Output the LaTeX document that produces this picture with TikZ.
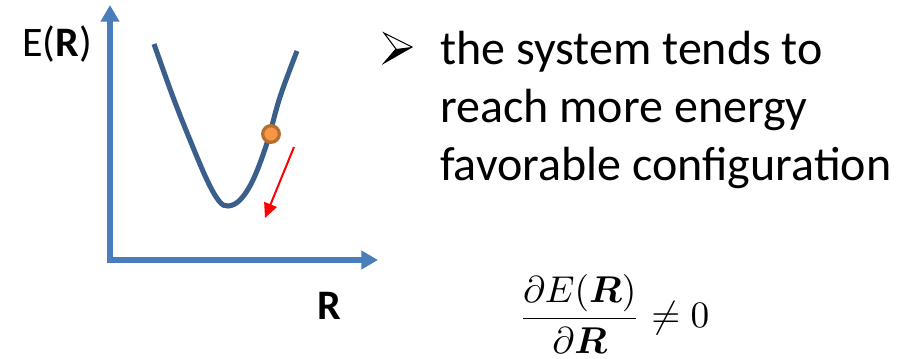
\documentclass[tikz,border=0pt]{standalone}
\usepackage{amsmath}
\usepackage{fontspec}
\setmainfont{Carlito}
\usetikzlibrary{arrows.meta}
\definecolor{axisblue}{HTML}{4A7EBB}
\definecolor{curveblue}{HTML}{3A5F8B}
\definecolor{ballfill}{HTML}{F79646}
\definecolor{ballrim}{HTML}{B5702F}
\definecolor{pushred}{HTML}{FF0000}
\tikzset{
  axisline/.style={{Triangle[length=12.5pt,width=13.5pt]}-{Triangle[length=12.5pt,width=13.5pt]},
                   line width=4.5pt, color=axisblue, line join=miter},
  curveline/.style={line width=3.8pt, color=curveblue, line cap=butt},
  ballmark/.style={circle, fill=ballfill, draw=ballrim, line width=2.4pt,
                   minimum size=12.5pt, inner sep=0pt},
  pusharr/.style={-{Triangle[length=11pt,width=10pt]}, line width=1.5pt, color=pushred},
  axlabel/.style={inner sep=0pt, font=\fontsize{31.5}{36}\selectfont},
  bodytext/.style={inner sep=0pt, anchor=base west, font=\fontsize{36}{42}\selectfont},
  mathtext/.style={inner sep=0pt, font=\normalsize, scale=2.8, transform shape}}
\begin{document}
\begin{tikzpicture}[x=0.75pt,y=-0.75pt]
  \useasboundingbox (0,0) rectangle (900,359);
  % axes
  \coordinate (ytip) at (110,5);
  \coordinate (corner) at (110,260);
  \coordinate (xtip) at (378,260);
  \draw[axisline] (ytip) -- (corner) -- (xtip);
  \node[axlabel, anchor=base west] (elabel) at (22,57) {E(\textbf{R})};
  \node[axlabel, anchor=base west] (rlabel) at (317,320) {\textbf{R}};
  % energy well
  \draw[curveline] plot[smooth, tension=0.6] coordinates {(154,44) (173,97) (190,140)
    (207,180) (219,201) (228,206) (240,200) (253,180) (267,143) (280,97) (297,51)};
  \node[ballmark] (ball) at (271,134) {};
  \coordinate (push0) at (294,147);
  \coordinate (push1) at (265,218);
  \draw[pusharr] (push0) -- (push1);
  % bullet point
  \fill[black] (396,49) -- (412,47) -- (384,63) -- cycle;
  \draw[black, line width=0.8pt, line join=miter] (384,33) -- (412,47) -- (384,63) -- (396,49) -- cycle;
  \node[bodytext] (line1) at (440,65) {the system tends to};
  \node[bodytext] (line2) at (440,123) {reach more energy};
  \node[bodytext] (line3) at (440,181) {favorable configuration};
  % gradient condition
  \node[mathtext] (grad) at (614,314) {$\dfrac{\partial E(\boldsymbol{R})}{\partial \boldsymbol{R}} \neq 0$};
\end{tikzpicture}
\end{document}
